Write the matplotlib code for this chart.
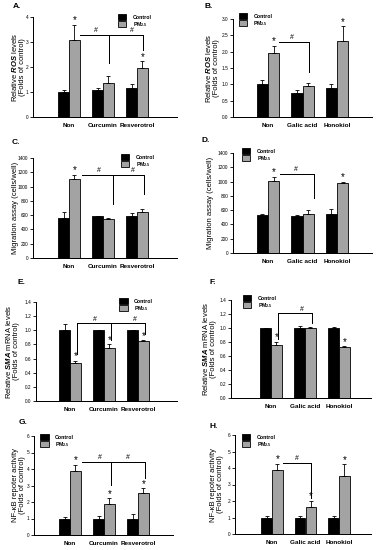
import matplotlib
matplotlib.use("Agg")
import matplotlib.pyplot as plt

plt.rcParams["font.family"] = ["Liberation Sans", "DejaVu Sans"]
plt.rcParams["font.weight"] = "bold"
plt.rcParams["mathtext.fontset"] = "custom"
plt.rcParams["mathtext.rm"] = "Liberation Sans:bold"
plt.rcParams["mathtext.it"] = "Liberation Sans:italic:bold"
plt.rcParams["mathtext.bf"] = "Liberation Sans:bold"

groups_left = ["Non", "Curcumin", "Resverotrol"]
groups_right = ["Non", "Galic acid", "Honokiol"]

# ROS
ros_a_ctrl = [1.00, 1.08, 1.17]
ros_a_ctrl_err = [0.08, 0.08, 0.17]
ros_a_pm = [3.08, 1.37, 1.96]
ros_a_pm_err = [0.62, 0.28, 0.27]
ros_b_ctrl = [1.00, 0.72, 0.88]
ros_b_ctrl_err = [0.12, 0.12, 0.13]
ros_b_pm = [1.96, 0.95, 2.33]
ros_b_pm_err = [0.22, 0.08, 0.45]

# migration
mig_c_ctrl = [560, 590, 585]
mig_c_ctrl_err = [90, 5, 50]
mig_c_pm = [1105, 545, 645]
mig_c_pm_err = [60, 15, 45]
mig_d_ctrl = [530, 515, 545]
mig_d_ctrl_err = [20, 15, 70]
mig_d_pm = [1010, 545, 975]
mig_d_pm_err = [60, 55, 25]

# SMA mRNA
sma_e_ctrl = [1.00, 1.00, 1.00]
sma_e_ctrl_err = [0.09, 0.01, 0.01]
sma_e_pm = [0.54, 0.75, 0.85]
sma_e_pm_err = [0.03, 0.05, 0.01]
sma_f_ctrl = [1.00, 1.00, 1.00]
sma_f_ctrl_err = [0.005, 0.03, 0.01]
sma_f_pm = [0.76, 1.00, 0.73]
sma_f_pm_err = [0.04, 0.02, 0.01]

# NF-kB reporter
nfkb_g_ctrl = [1.00, 1.00, 1.00]
nfkb_g_ctrl_err = [0.07, 0.18, 0.30]
nfkb_g_pm = [3.85, 1.90, 2.52]
nfkb_g_pm_err = [0.42, 0.32, 0.30]
nfkb_h_ctrl = [1.00, 1.00, 1.00]
nfkb_h_ctrl_err = [0.07, 0.12, 0.07]
nfkb_h_pm = [3.85, 1.65, 3.52]
nfkb_h_pm_err = [0.42, 0.35, 0.70]

# which PM bars get a star
stars_a = [True, False, True]
stars_b = [True, False, True]
stars_c = [True, False, False]
stars_d = [True, False, True]
stars_e = [True, True, True]
stars_f = [True, False, True]
stars_g = [True, True, True]
stars_h = [True, True, True]

W, H = 379, 550
fig = plt.figure(figsize=(W / 100, H / 100), dpi=100)

GRAY = "#a3a3a3"
LW = 0.6


def add_ax(left, top, right, bottom):
    return fig.add_axes([left / W, 1 - bottom / H, (right - left) / W, (bottom - top) / H])


def panel(box, centers, letter, letter_xy, groups, ctrl, ctrl_err, pm, pm_err,
          stars, ymax, ystep, ylabel, label_x, tickfmt, legend_xy, bracket):
    left, top, right, bottom = box
    ax = add_ax(left, top, right, bottom)
    sp = (centers[2] - centers[0]) / 2
    ax.set_xlim(-(centers[0] - left) / sp, 2 + (right - centers[2]) / sp)
    ax.set_ylim(0, ymax)
    x = [0, 1, 2]
    w = 0.32
    xc = [i - w / 2 for i in x]
    xp = [i + w / 2 for i in x]
    ax.bar(xc, ctrl, w, color="black", edgecolor="black", lw=LW, label="Control", zorder=2)
    ax.bar(xp, pm, w, color=GRAY, edgecolor="black", lw=LW, label=r"PM$_{2.5}$", zorder=2)
    ax.errorbar(xc, ctrl, yerr=[[0] * 3, ctrl_err], fmt="none", ecolor="black",
                elinewidth=LW, capsize=1.6, capthick=LW, zorder=1)
    ax.errorbar(xp, pm, yerr=[[0] * 3, pm_err], fmt="none", ecolor="black",
                elinewidth=LW, capsize=1.6, capthick=LW, zorder=3)
    for i in range(3):
        if stars[i]:
            ax.annotate("*", (xp[i], pm[i] + pm_err[i]), xytext=(0, 3.2),
                        textcoords="offset points", ha="center", va="center",
                        fontsize=7, fontweight="normal")

    # bracket: line level, start x, left drop end, drops [(x, yend)], hash x positions
    yl, xs, ldrop, drops, hashes = bracket
    xe = max(d[0] for d in drops)
    ax.plot([xs, xe], [yl, yl], color="black", lw=LW * 1.2, zorder=4)
    if ldrop is not None:
        ax.plot([xs, xs], [yl, ldrop], color="black", lw=LW * 1.2, zorder=4)
    for dx, dy in drops:
        ax.plot([dx, dx], [yl, dy], color="black", lw=LW * 1.2, zorder=4)
    for hx in hashes:
        ax.annotate("#", (hx, yl), xytext=(0, 3), textcoords="offset points",
                    ha="center", va="center", fontsize=5, fontweight="normal")

    ticks = [ystep * k for k in range(int(round(ymax / ystep)) + 1)]
    ax.set_yticks(ticks)
    ax.set_yticklabels([tickfmt.format(t) for t in ticks])
    ax.set_xticks(x)
    ax.set_xticklabels(groups)
    ax.tick_params(axis="x", length=0, pad=4, labelsize=4.6)
    ax.tick_params(axis="y", length=2, width=LW, pad=1.5, labelsize=3.4)
    for t in ax.get_yticklabels():
        t.set_fontweight("normal")
    for s in ["top", "right"]:
        ax.spines[s].set_visible(False)
    for s in ["left", "bottom"]:
        ax.spines[s].set_linewidth(LW * 1.2)
    ax.set_ylabel(ylabel, fontsize=5.5, linespacing=1.0)
    ax.yaxis.set_label_coords(label_x, 0.5)

    leg = ax.legend(loc="upper left", bbox_to_anchor=legend_xy, frameon=False,
                    fontsize=3.8, handlelength=1.6, handleheight=1.35,
                    labelspacing=0.0, handletextpad=1.2, borderpad=0, borderaxespad=0)
    for h in leg.legend_handles:
        h.set_linewidth(LW)

    fig.text(letter_xy[0] / W, 1 - letter_xy[1] / H, letter, fontsize=6,
             ha="left", va="center")
    return ax


ros_lab = "Relative $\\mathit{ROS}$ levels\n(Folds of control)"
mig_lab = "Migration assay (cells/well)"
sma_lab = "Relative $\\mathit{SMA}$ mRNA levels\n(Folds of control)"
nf_lab = "NF-\u03baB repoter activity\n(Folds of control)"

panel((33, 17, 177, 117), (69, 103, 137), "A.", (13, 7), groups_left,
      ros_a_ctrl, ros_a_ctrl_err, ros_a_pm, ros_a_pm_err, stars_a,
      4, 1, ros_lab, -0.05, "{:.0f}", (0.59, 1.03),
      (3.28, 0.32, None, [(1.18, 2.15), (2.18, 2.7)], [0.79, 1.85]))

panel((233, 19, 372, 117), (268, 302, 337), "B.", (204, 7), groups_right,
      ros_b_ctrl, ros_b_ctrl_err, ros_b_pm, ros_b_pm_err, stars_b,
      3.0, 0.5, ros_lab, -0.09, "{:.1f}", (0.04, 1.06),
      (2.3, 0.33, None, [(1.18, 1.38)], [0.68]))

panel((33, 158, 177, 258), (69, 103, 137), "C.", (12, 142), groups_left,
      mig_c_ctrl, mig_c_ctrl_err, mig_c_pm, mig_c_pm_err, stars_c,
      1400, 200, mig_lab, -0.10, "{:.0f}", (0.61, 1.04),
      (1162, 0.38, None, [(1.29, 756), (2.2, 896)], [0.88, 1.88]))

panel((233, 153, 372, 253), (268, 302, 337), "D.", (202, 140), groups_right,
      mig_d_ctrl, mig_d_ctrl_err, mig_d_pm, mig_d_pm_err, stars_d,
      1400, 200, mig_lab, -0.137, "{:.0f}", (0.065, 1.05),
      (1106, 0.35, None, [(1.32, 770)], [0.8]))

panel((36, 302, 177, 401), (70, 104, 138), "E.", (18, 282), groups_left,
      sma_e_ctrl, sma_e_ctrl_err, sma_e_pm, sma_e_pm_err, stars_e,
      1.4, 0.2, sma_lab, -0.11, "{:.1f}", (0.59, 1.04),
      (1.10, 0.2, 0.66, [(1.2, 0.86), (2.2, 0.95)], [0.74, 1.9]))

panel((231, 300, 371, 398), (271, 304, 339), "F.", (209, 282), groups_right,
      sma_f_ctrl, sma_f_ctrl_err, sma_f_pm, sma_f_pm_err, stars_f,
      1.4, 0.2, sma_lab, -0.10, "{:.1f}", (0.085, 1.05),
      (1.21, 0.2, 0.84, [(1.2, 1.07)], [0.91]))

panel((34, 436, 173, 535), (70, 104, 138), "G.", (19, 422), groups_left,
      nfkb_g_ctrl, nfkb_g_ctrl_err, nfkb_g_pm, nfkb_g_pm_err, stars_g,
      6, 1, nf_lab, -0.06, "{:.0f}", (0.045, 1.02),
      (4.42, 0.35, None, [(1.2, 3.03), (2.2, 3.45)], [0.88, 1.7]))

panel((235, 435, 371, 534), (272, 306, 339), "H.", (209, 427), groups_right,
      nfkb_h_ctrl, nfkb_h_ctrl_err, nfkb_h_pm, nfkb_h_pm_err, stars_h,
      6, 1, nf_lab, -0.08, "{:.0f}", (0.05, 1.01),
      (4.3, 0.33, None, [(1.16, 2.2)], [0.75]))

fig.savefig("out.png", dpi=100, facecolor="white")
